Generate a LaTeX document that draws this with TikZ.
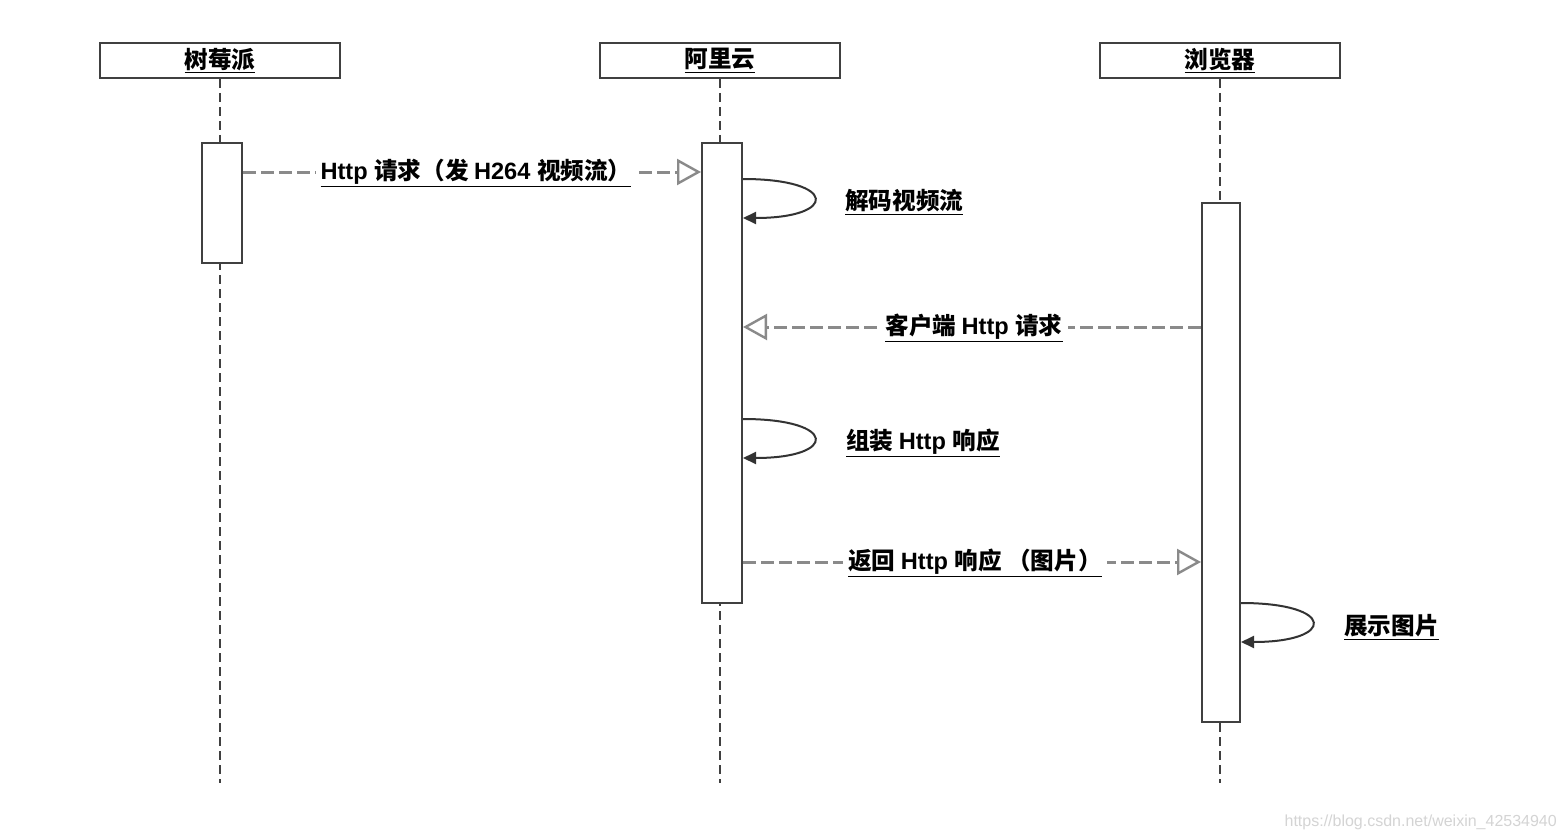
\documentclass[tikz,border=0pt]{standalone}
\usepackage{fontspec}
\setmainfont{Liberation Sans}
\newfontfamily\latf{Liberation Sans}
\newfontfamily\cjkf{Noto Sans CJK SC}
\usetikzlibrary{arrows.meta}
\definecolor{boxc}{HTML}{404040}
\definecolor{msgc}{HTML}{8A8A8A}
\definecolor{loopc}{HTML}{333333}
\begin{document}
\begin{tikzpicture}[x=1pt,y=-1pt,
  font=\bfseries\fontsize{23.6}{28}\selectfont,
  head/.style={draw=boxc, line width=2pt, fill=white, minimum width=240pt, minimum height=35pt, inner sep=0pt},
  act/.style={draw=boxc, line width=2pt, fill=white, inner sep=0pt},
  life/.style={draw=boxc, line width=1.5pt, dash pattern=on 9pt off 5pt},
  msg/.style={draw=msgc, line width=3pt, dash pattern=on 13pt off 5pt,
    -{Triangle[open, length=24pt, width=26pt, line width=2.4pt]}},
  selfloop/.style={draw=loopc, line width=2pt, -{Triangle[length=13pt, width=12pt]}},
  lbl/.style={fill=white, inner xsep=5pt, inner ysep=2pt},
  sidelbl/.style={anchor=west, inner sep=0pt}]
\useasboundingbox (0,0) rectangle (1566,840);
\fill[white] (0,0) rectangle (1566,840);
% heads
\node[head] (h1) at (220,60.5) {\underline{\cjkf 树莓派}};
\node[head] (h2) at (720,60.5) {\underline{\cjkf 阿里云}};
\node[head] (h3) at (1220,60.5) {\underline{\cjkf 浏览器}};
\coordinate (e1) at (220,783);
\coordinate (e2) at (720,783);
\coordinate (e3) at (1220,783);
\draw[life] (h1.south) -- (e1);
\draw[life] (h2.south) -- (e2);
\draw[life] (h3.south) -- (e3);
% activations
\node[act, minimum width=40pt, minimum height=120pt] (a1) at (222,203) {};
\node[act, minimum width=40pt, minimum height=460pt] (a2) at (722,373) {};
\node[act, minimum width=38pt, minimum height=519pt] (a3) at (1221,462.5) {};
% message levels
\coordinate (m1) at (0,172);
\coordinate (m2) at (0,327);
\coordinate (m3) at (0,562);
% messages
\draw[msg] (a1.east |- m1) -- (a2.west |- m1);
\node[lbl] (t1) at (476,173) {\underline{\latf Http \cjkf 请求（发 \latf H264 \cjkf 视频流）}};
\draw[msg] (a3.west |- m2) -- (a2.east |- m2);
\node[lbl] (t2) at (974,328) {\underline{\cjkf 客户端 \latf Http \cjkf 请求}};
\draw[msg] (a2.east |- m3) -- (a3.west |- m3);
\node[lbl] (t3) at (975,563) {\underline{\cjkf 返回 \latf Http \cjkf 响应 （图片）}};
% self loops
\coordinate (s1a) at (0,179); \coordinate (s1b) at (0,218);
\coordinate (s2a) at (0,419); \coordinate (s2b) at (0,458);
\coordinate (s3a) at (0,603); \coordinate (s3b) at (0,642);
\draw[selfloop] (a2.east |- s1a) .. controls +(95,0) and +(95,0) .. (a2.east |- s1b);
\node[sidelbl] (t4) at (845,202) {\underline{\cjkf 解码视频流}};
\draw[selfloop] (a2.east |- s2a) .. controls +(95,0) and +(95,0) .. (a2.east |- s2b);
\node[sidelbl] (t5) at (846,443) {\underline{\cjkf 组装 \latf Http \cjkf 响应}};
\draw[selfloop] (a3.east |- s3a) .. controls +(95,0) and +(95,0) .. (a3.east |- s3b);
\node[sidelbl] (t6) at (1344,627) {\underline{\cjkf 展示图片}};
% watermark
\node[anchor=east, inner sep=0pt, text=black!17, font=\latf\fontsize{16}{18}\selectfont] (wm) at (1557,822) {https://blog.csdn.net/weixin\_42534940};
\end{tikzpicture}
\end{document}
